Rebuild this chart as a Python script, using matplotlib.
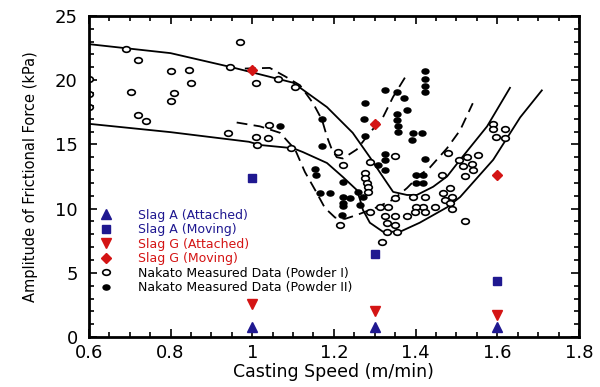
import numpy as np
import matplotlib.pyplot as plt
from matplotlib.path import Path
from matplotlib.transforms import Affine2D
from matplotlib.ticker import MultipleLocator, FormatStrFormatter

plt.rcParams['font.family'] = ['DejaVu Sans']

# Slag measurements (casting speed in m/min, amplitude in kPa)
speeds = [1.0, 1.3, 1.6]
slagA_attached = [0.8, 0.8, 0.8]
slagA_moving = [12.4, 6.5, 4.4]
slagG_attached = [2.6, 2.0, 1.7]
slagG_moving = [20.8, 16.6, 12.6]

# Nakato measured data, powder I (open symbols)
p1_x = [0.60, 0.60, 0.60, 0.69, 0.72, 0.704, 0.72, 0.739, 0.802, 0.845, 0.849, 0.808, 0.80,
        0.969, 0.945, 0.941, 1.01, 1.062, 1.105, 1.042, 1.01, 1.039, 1.011, 1.096,
        1.21, 1.223, 1.215, 1.288, 1.35, 1.276, 1.276, 1.28, 1.284, 1.284,
        1.48, 1.507, 1.525, 1.553, 1.517, 1.537, 1.521, 1.541,
        1.59, 1.59, 1.619, 1.598, 1.619,
        1.464, 1.484, 1.468, 1.488, 1.472, 1.484, 1.488,
        1.447, 1.423, 1.419, 1.423, 1.402, 1.398, 1.394,
        1.35, 1.333, 1.313, 1.288, 1.325, 1.35, 1.378,
        1.329, 1.35, 1.354, 1.329, 1.317, 1.521]
p1_y = [20.1, 18.9, 17.9, 22.45, 21.6, 19.1, 17.3, 16.8, 20.7, 20.8, 19.8, 19.0, 18.4,
        23.0, 21.0, 15.9, 19.8, 20.1, 19.5, 16.5, 15.6, 15.5, 14.95, 14.7,
        14.4, 13.4, 8.7, 13.65, 14.1, 12.75, 12.35, 12.0, 11.7, 11.3,
        14.3, 13.8, 14.0, 14.2, 13.3, 13.5, 12.5, 13.0,
        16.6, 16.2, 16.2, 15.55, 15.5,
        12.6, 11.6, 11.2, 10.9, 10.7, 10.4, 10.0,
        10.15, 10.9, 10.15, 9.75, 10.15, 9.75, 10.9,
        10.8, 10.15, 10.15, 9.75, 9.4, 9.4, 9.4,
        8.85, 8.7, 8.2, 8.2, 7.4, 9.0]

# Nakato measured data, powder II (filled symbols)
p2_x = [1.068, 1.17, 1.17, 1.153, 1.157,
        1.423, 1.423, 1.423, 1.423,
        1.325, 1.354, 1.276, 1.371, 1.38, 1.354, 1.273, 1.354, 1.358, 1.358,
        1.394, 1.415, 1.39, 1.276,
        1.325, 1.325, 1.309, 1.325,
        1.423, 1.402, 1.419, 1.402, 1.419,
        1.223, 1.166, 1.19, 1.223, 1.239, 1.223, 1.223,
        1.259, 1.272, 1.264, 1.219]
p2_y = [16.45, 16.95, 14.9, 13.1, 12.6,
        20.7, 20.1, 19.55, 19.05,
        19.25, 19.1, 18.25, 18.6, 17.7, 17.4, 17.0, 16.9, 16.4, 16.0,
        15.85, 15.85, 15.35, 15.65,
        14.25, 13.8, 13.4, 13.0,
        13.85, 12.6, 12.6, 12.0, 12.0,
        12.1, 11.25, 11.25, 10.9, 10.8, 10.45, 10.2,
        11.3, 10.9, 10.3, 9.5]

# fitted trend curves
upper_solid_x = [0.6, 0.8, 0.95, 1.0, 1.1, 1.183, 1.246, 1.288, 1.313, 1.33, 1.345, 1.379,
                 1.403, 1.443, 1.477, 1.509, 1.575, 1.631]
upper_solid_y = [22.8, 22.1, 21.0, 20.6, 19.8, 17.9, 15.9, 14.0, 12.8, 12.0, 11.3, 11.06,
                 11.06, 11.7, 12.5, 13.8, 16.4, 19.4]
lower_solid_x = [0.6, 0.8, 0.992, 1.019, 1.1, 1.124, 1.183, 1.222, 1.256, 1.264, 1.271, 1.288,
                 1.32, 1.362, 1.41, 1.477, 1.509, 1.59, 1.656, 1.709]
lower_solid_y = [16.6, 15.95, 15.2, 14.95, 14.7, 14.4, 13.55, 12.46, 11.45, 10.7, 9.9, 8.9,
                 8.2, 8.2, 8.9, 10.1, 10.9, 13.8, 17.1, 19.2]
upper_dash_x = [0.982, 1.043, 1.08, 1.117, 1.149, 1.171, 1.183, 1.195, 1.207, 1.222, 1.256,
                1.288, 1.32, 1.345, 1.374]
upper_dash_y = [20.9, 20.95, 20.3, 19.6, 18.2, 16.9, 15.6, 14.6, 14.0, 13.9, 14.6,
                15.9, 17.1, 18.7, 20.2]
lower_dash_x = [0.962, 1.019, 1.068, 1.105, 1.129, 1.154, 1.178, 1.203, 1.227, 1.256, 1.305,
                1.345, 1.379, 1.41, 1.435, 1.477, 1.509, 1.54]
lower_dash_y = [16.7, 16.4, 15.9, 14.6, 12.85, 11.45, 10.05, 9.3, 9.2, 9.5, 10.1,
                10.7, 11.6, 12.6, 13.2, 14.7, 16.1, 18.2]

blue = '#1f1890'
red = '#d41414'
oval = Path.unit_circle().transformed(Affine2D().scale(1.35, 1.0))

fig = plt.figure(figsize=(6, 3.87), dpi=100)
ax = fig.add_axes([0.148, 0.129, 0.817, 0.830])

ax.plot(upper_solid_x, upper_solid_y, color='k', lw=1.3)
ax.plot(lower_solid_x, lower_solid_y, color='k', lw=1.3)
ax.plot(upper_dash_x, upper_dash_y, color='k', lw=1.3, ls=(0, (6, 3.5)))
ax.plot(lower_dash_x, lower_dash_y, color='k', lw=1.3, ls=(0, (6, 3.5)))

ax.plot(speeds, slagA_attached, ls='none', marker='^', ms=6.5, color=blue, label='Slag A (Attached)')
ax.plot(speeds, slagA_moving, ls='none', marker='s', ms=6, color=blue, label='Slag A (Moving)')
ax.plot(speeds, slagG_attached, ls='none', marker='v', ms=6.5, color=red, label='Slag G (Attached)')
ax.plot(speeds, slagG_moving, ls='none', marker='D', ms=5.5, color=red, label='Slag G (Moving)')
ax.plot(p1_x, p1_y, ls='none', marker=oval, ms=5.5, mfc='white', mec='k', mew=1.2,
        label='Nakato Measured Data (Powder I)')
ax.plot(p2_x, p2_y, ls='none', marker=oval, ms=5, color='k',
        label='Nakato Measured Data (Powder II)')

ax.set_xlim(0.6, 1.8)
ax.set_ylim(0, 25)
ax.xaxis.set_major_locator(MultipleLocator(0.2))
ax.xaxis.set_minor_locator(MultipleLocator(0.05))
ax.yaxis.set_major_locator(MultipleLocator(5))
ax.yaxis.set_minor_locator(MultipleLocator(1))
ax.xaxis.set_major_formatter(FormatStrFormatter('%g'))
ax.tick_params(which='both', direction='in', top=True, right=True, width=1.2)
ax.tick_params(which='major', length=6, labelsize=13)
ax.tick_params(axis='x', which='major', pad=5)
ax.tick_params(axis='y', which='major', pad=8)
ax.tick_params(which='minor', length=3.5)
for s in ax.spines.values():
    s.set_linewidth(2)

ax.set_xlabel('Casting Speed (m/min)', fontsize=12.5, labelpad=1)
ax.set_ylabel('Amplitude of Frictional Force (kPa)', fontsize=10.5, labelpad=12)

leg = ax.legend(loc='upper left', bbox_to_anchor=(0.019, 0.40), frameon=False, fontsize=9,
                labelspacing=0.12, handlelength=1.2, handletextpad=2.0, borderpad=0,
                borderaxespad=0)
for t, c in zip(leg.get_texts(), [blue, blue, red, red, 'k', 'k']):
    t.set_color(c)

fig.savefig('out.png', dpi=100)
